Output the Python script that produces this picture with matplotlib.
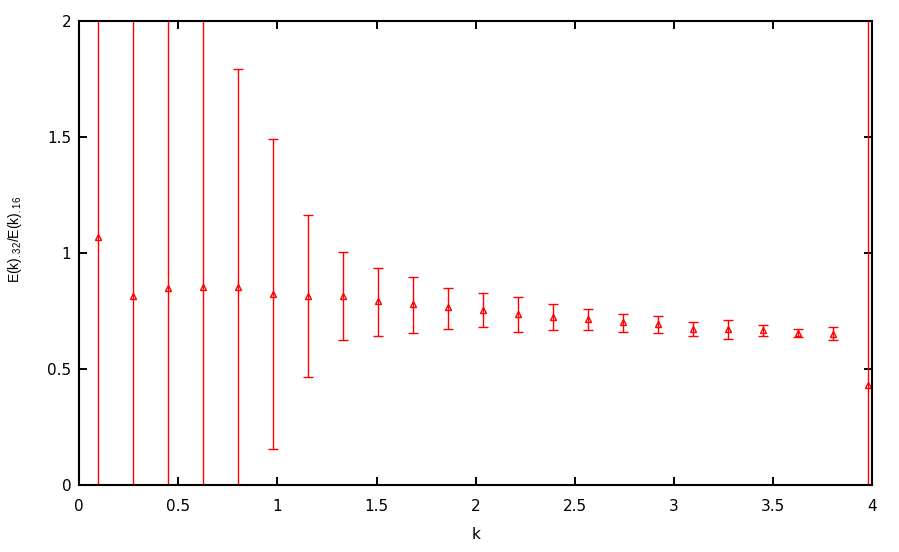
import matplotlib.pyplot as plt
from matplotlib.ticker import FuncFormatter

plt.rcParams['mathtext.fontset'] = 'custom'
plt.rcParams['mathtext.rm'] = 'Liberation Sans'
plt.rcParams['mathtext.it'] = 'Liberation Sans'

# wavenumber k of each point
k = [0.094, 0.270, 0.447, 0.623, 0.800, 0.976, 1.153, 1.329, 1.506, 1.682,
     1.859, 2.035, 2.212, 2.388, 2.565, 2.741, 2.918, 3.094, 3.271, 3.447,
     3.624, 3.800, 3.978]
# ratio E(k)_32 / E(k)_16
ratio = [1.071, 0.814, 0.849, 0.854, 0.854, 0.826, 0.814, 0.817, 0.793, 0.780,
         0.767, 0.754, 0.737, 0.724, 0.715, 0.704, 0.695, 0.674, 0.674, 0.669,
         0.656, 0.651, 0.433]
# lower / upper ends of the error bars (first ones run off the plot)
lo = [-1.0, -1.0, -1.0, -1.0, -1.0, 0.155, 0.465, 0.625, 0.645, 0.654,
      0.675, 0.680, 0.662, 0.667, 0.667, 0.662, 0.654, 0.641, 0.632, 0.641,
      0.637, 0.624, -1.0]
hi = [3.0, 3.0, 3.0, 3.0, 1.794, 1.492, 1.166, 1.005, 0.938, 0.899,
      0.852, 0.830, 0.809, 0.783, 0.761, 0.740, 0.731, 0.705, 0.710, 0.692,
      0.675, 0.680, 3.0]

xticks = [0, 0.5, 1, 1.5, 2, 2.5, 3, 3.5, 4]
yticks = [0, 0.5, 1, 1.5, 2]

err = [[r - l for r, l in zip(ratio, lo)], [h - r for r, h in zip(ratio, hi)]]

fig = plt.figure(figsize=(8.99, 5.52), dpi=100)
ax = fig.add_axes([0.0879, 0.1208, 0.8826, 0.8412])

ax.errorbar(k, ratio, yerr=err, fmt='^', color='red', ecolor='red',
            markersize=5, markerfacecolor='none', markeredgewidth=1,
            elinewidth=1, capsize=3.3, capthick=1)

ax.set_xlim(0, 4)
ax.set_ylim(0, 2)
ax.set_xticks(xticks)
ax.set_yticks(yticks)
fmt = FuncFormatter(lambda v, p: '%g' % v)
ax.xaxis.set_major_formatter(fmt)
ax.yaxis.set_major_formatter(fmt)
ax.tick_params(direction='in', top=True, right=True, length=6, width=1.4,
               labelsize=11)
ax.tick_params(axis='x', pad=10)
ax.tick_params(axis='y', pad=5.5)
for s in ax.spines.values():
    s.set_linewidth(1.5)

ax.set_xlabel('k', fontsize=11, labelpad=9)
ax.set_ylabel(r'E(k)$_{.32}$/E(k)$_{.16}$', fontsize=10, family='Liberation Sans')
ax.yaxis.set_label_coords(-0.069, 0.53)

fig.savefig('out.png', dpi=100)
